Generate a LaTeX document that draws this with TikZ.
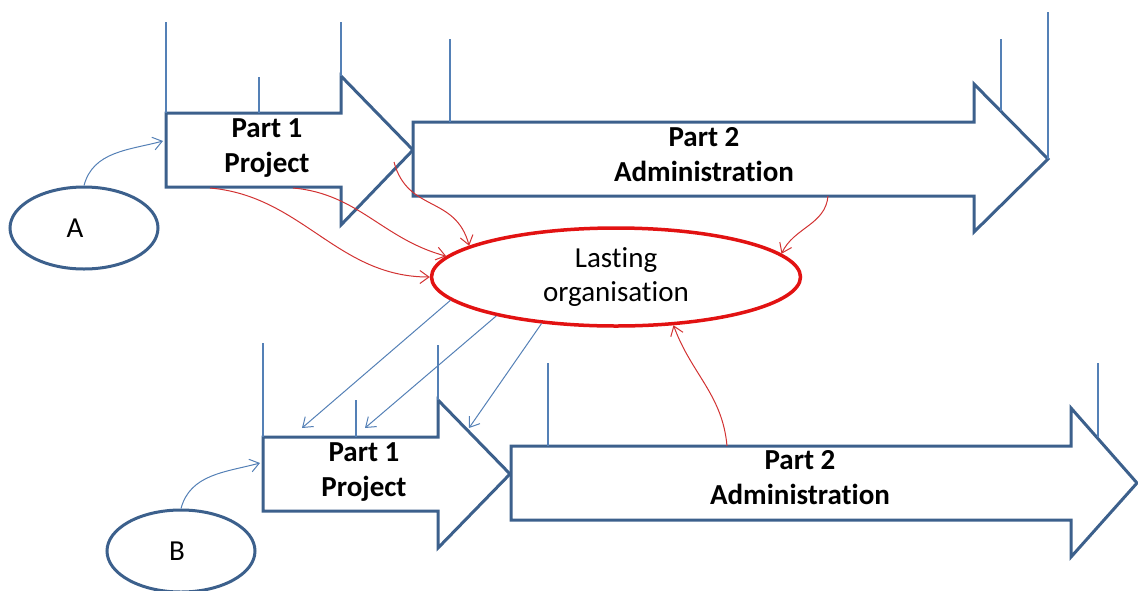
\documentclass[tikz,border=0pt]{standalone}
\usepackage{fontspec}
\setmainfont{Carlito}[Ligatures=NoCommon]
\usepackage{xcolor}
\usepackage{tikz}
\usetikzlibrary{arrows.meta,shapes.geometric}
\definecolor{outlineblue}{RGB}{60,96,140}
\definecolor{lineblue}{RGB}{84,128,182}
\definecolor{orgred}{RGB}{226,18,18}
\definecolor{linkred}{RGB}{210,50,50}

\begin{document}
\begin{tikzpicture}[x=1pt, y=1pt,
  blockarr/.style={draw=outlineblue, line width=3pt, fill=white},
  tick/.style={draw=lineblue, line width=1.1pt},
  partlbl/.style={font=\fontsize{29}{35}\selectfont\bfseries, align=center, inner sep=0pt},
  person/.style={ellipse, draw=outlineblue, line width=3pt, minimum width=148pt,
                 minimum height=82pt, inner sep=0pt, font=\fontsize{29}{34}\selectfont},
  lasting/.style={ellipse, draw=orgred, line width=3.5pt, minimum width=369pt,
                  minimum height=98pt, inner sep=0pt, align=center,
                  font=\fontsize{29}{33.5}\selectfont},
  bluelink/.style={draw=lineblue, line width=1pt, -{Straight Barb[length=9pt,width=13pt]}},
  redlink/.style={draw=linkred, line width=1pt, -{Straight Barb[length=9pt,width=13pt]}}
]
\useasboundingbox (0,0) rectangle (1138,-590);

% block arrows, upper row (A) and lower row (B)
\draw[blockarr] (166,-113) -- (341,-113) -- (341,-76) -- (413,-150) -- (341,-225)
                -- (341,-187) -- (166,-187) -- cycle;
\draw[blockarr] (413,-122) -- (974,-122) -- (974,-84) -- (1048,-159) -- (974,-232)
                -- (974,-196) -- (413,-196) -- cycle;
\draw[blockarr] (263,-437) -- (438,-437) -- (438,-400) -- (510,-474) -- (438,-548)
                -- (438,-511) -- (263,-511) -- cycle;
\draw[blockarr] (511,-446) -- (1071,-446) -- (1071,-408) -- (1137,-483) -- (1071,-557)
                -- (1071,-520) -- (511,-520) -- cycle;

% thin vertical marks
\draw[tick] (166,-22) -- (166,-113) (259,-77) -- (259,-113) (341,-22) -- (341,-76)
            (450,-39) -- (450,-122) (1001,-39) -- (1001,-111) (1048,-12) -- (1048,-159);
\draw[tick] (263,-343) -- (263,-437) (356,-400) -- (356,-437) (438,-345) -- (438,-400)
            (548,-363) -- (548,-446) (1098,-363) -- (1098,-437);

\node[partlbl] (p1a) at (267,-148) {Part 1\\Project};
\node[partlbl] (p2a) at (704,-155) {Part 2\\Administration};
\node[partlbl] (p1b) at (364,-472) {Part 1\\Project};
\node[partlbl] (p2b) at (800,-478) {Part 2\\Administration};

\node[person] (A) at (84,-228) {\hspace*{-18pt}A};
\node[person] (B) at (181,-551) {\hspace*{-8pt}B};
\node[lasting] (org) at (616,-277) {Lasting\\organisation};

\coordinate (p1a-in) at (163,-141);
\coordinate (p1b-in) at (260,-463);
\coordinate (p1a-r1) at (210,-188);
\coordinate (p1a-r2) at (293,-188);
\coordinate (p1a-r3) at (394,-162);
\coordinate (p2a-r4) at (828,-196);
\coordinate (p2b-up) at (727,-446);
\coordinate (b1) at (302,-428);
\coordinate (b2) at (365,-428);
\coordinate (b3) at (469,-428);

\draw[bluelink] (A.north) to[out=75,in=195] (p1a-in);
\draw[bluelink] (B.north) to[out=75,in=195] (p1b-in);
% everything feeds the lasting organisation
\draw[redlink] (p1a-r1) to[out=-5,in=180] (org.west);
\draw[redlink] (p1a-r2) to[out=-5,in=165] (org.173);
\draw[redlink] (p1a-r3) to[out=-75,in=105,looseness=1.2] (org.168);
\draw[redlink] (p2a-r4) to[out=-95,in=65] (org.8);
\draw[redlink] (p2b-up) to[out=95,in=-70] (org.320);
\draw[bluelink] (org.188) -- (b1);
\draw[bluelink] (org.198) -- (b2);
\draw[bluelink] (org.212) -- (b3);
\end{tikzpicture}
\end{document}
